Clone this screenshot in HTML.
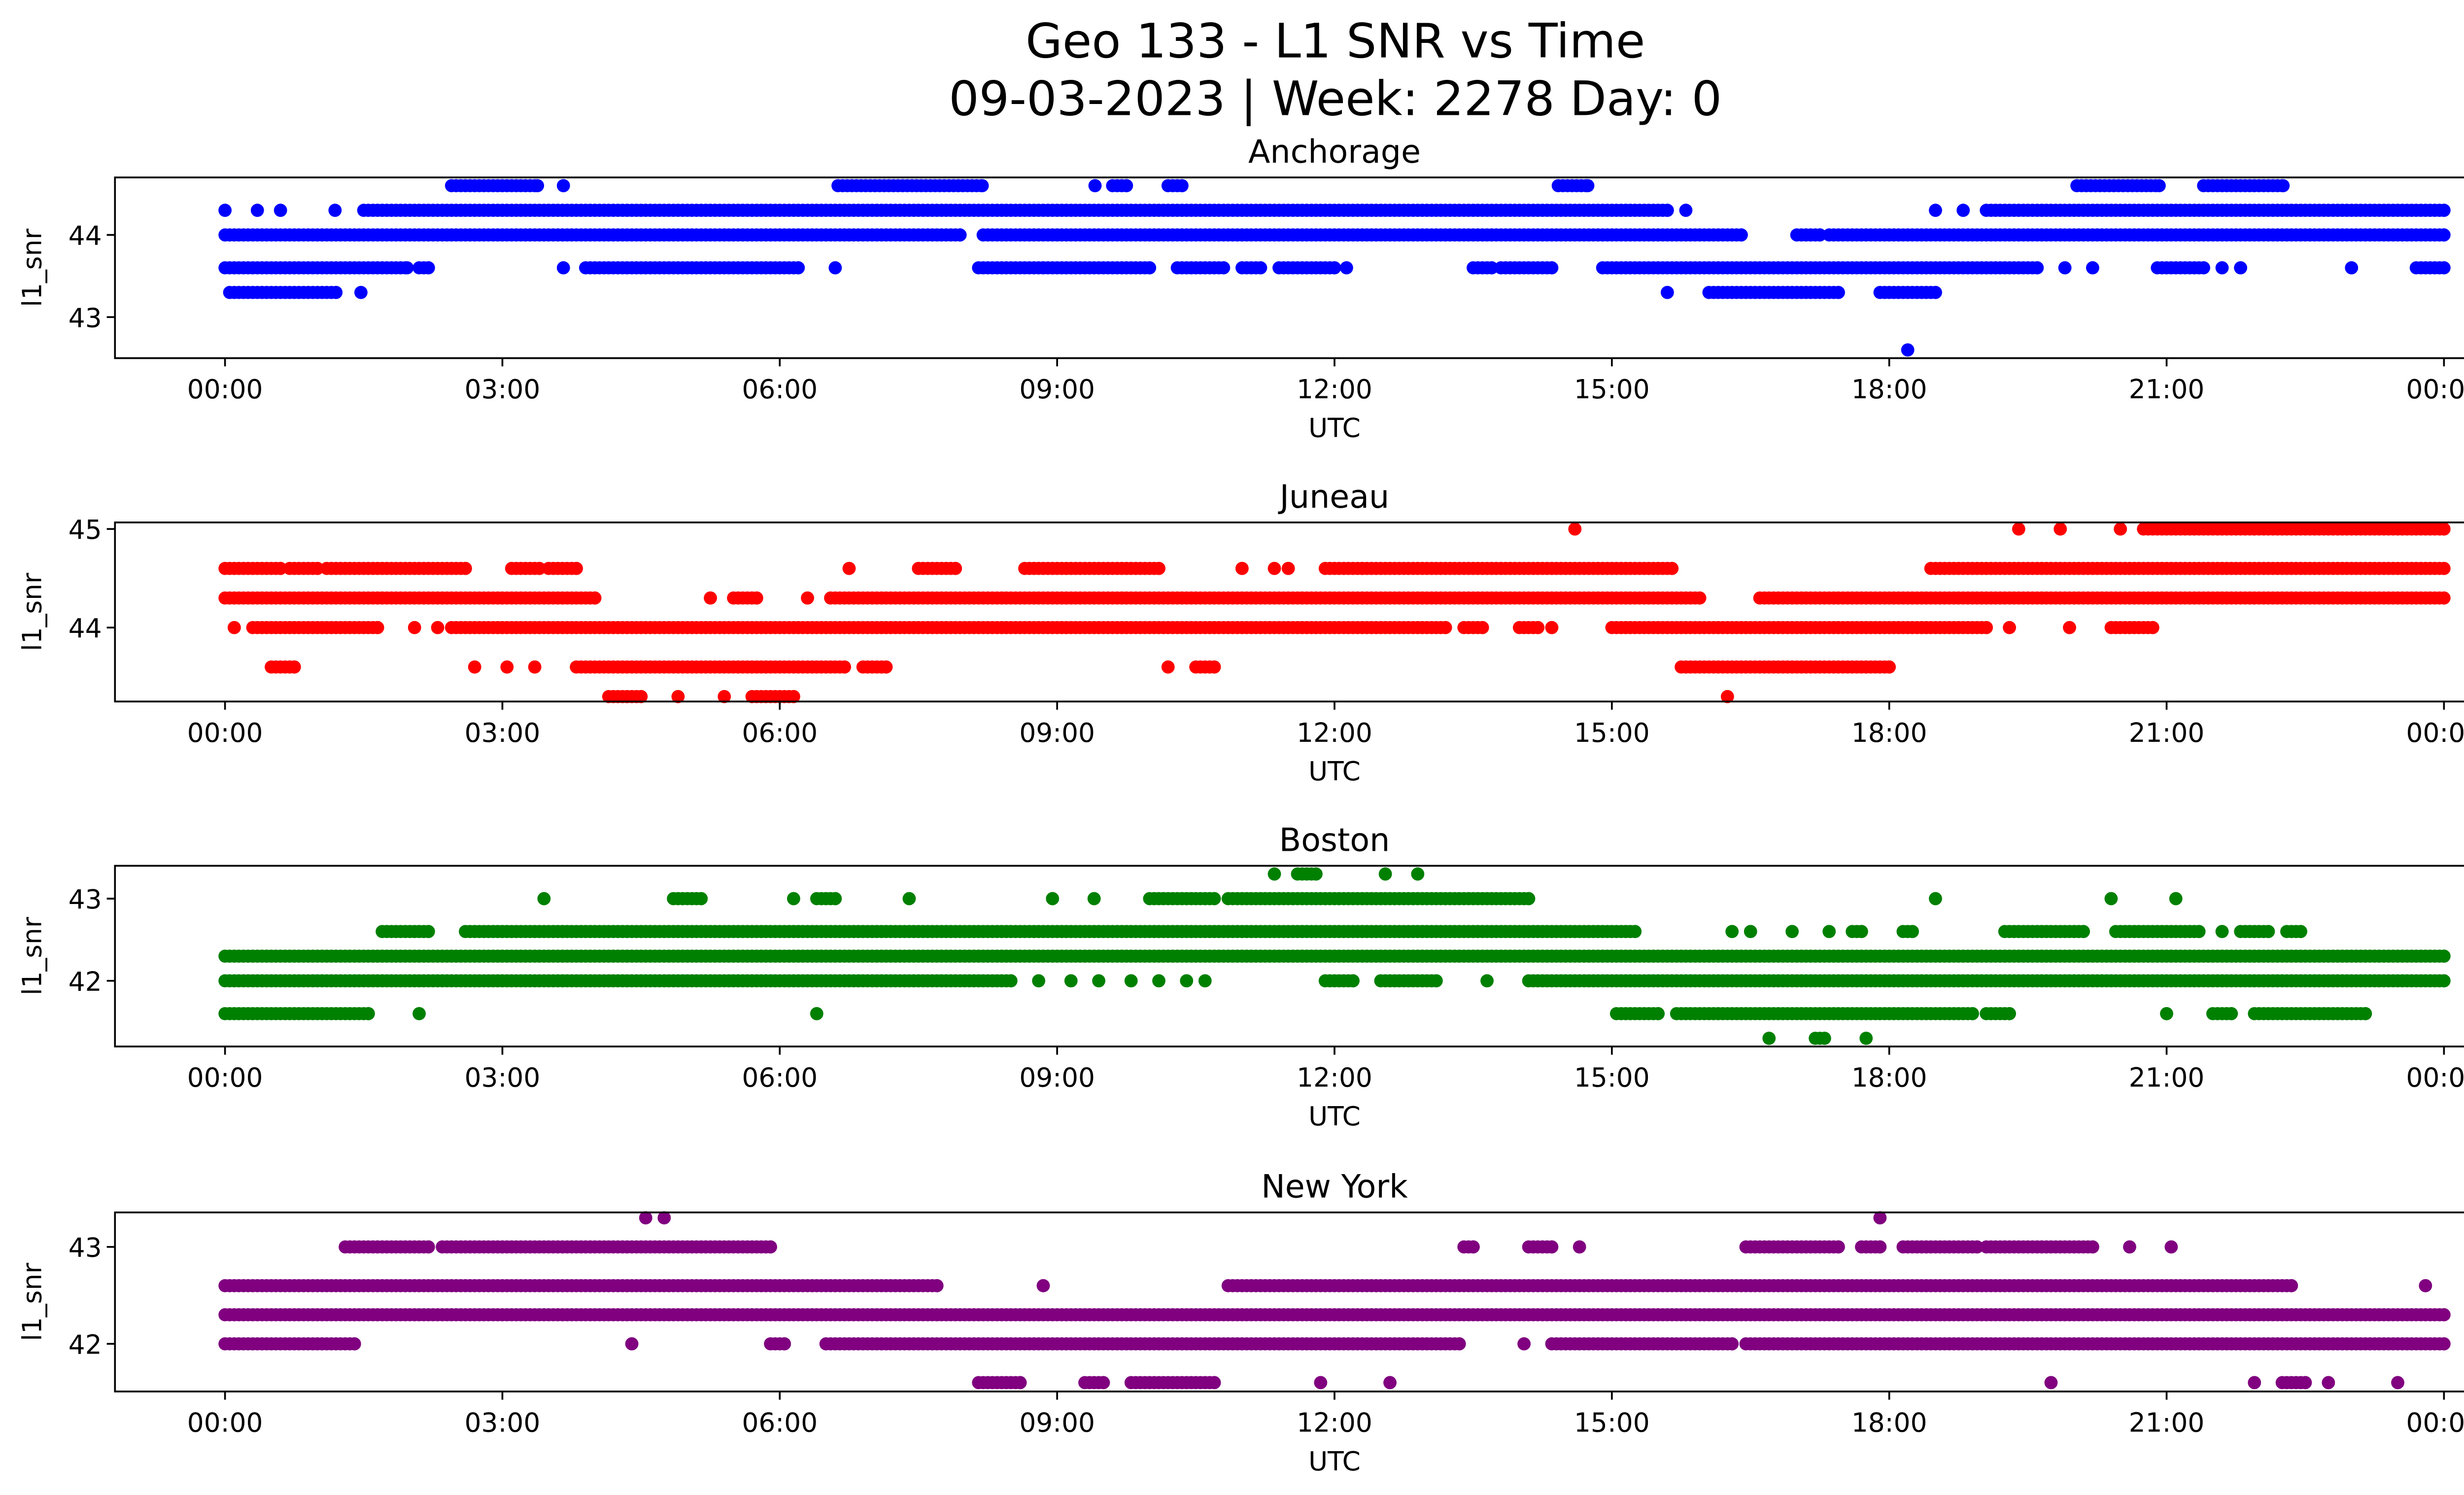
<!DOCTYPE html>
<html><head><meta charset="utf-8"><style>
html,body{margin:0;padding:0;background:#fff;}
svg{display:block;font-family:"DejaVu Sans","Liberation Sans",sans-serif;}
</style></head><body>
<svg id="fig" width="5226" height="3033" viewBox="0 0 1568 910" xmlns="http://www.w3.org/2000/svg">
<rect width="1568" height="910" fill="#fff"/>
<text x="813" y="35" font-size="29" text-anchor="middle">Geo 133 - L1 SNR vs Time</text>
<text x="813" y="70" font-size="29" text-anchor="middle">09-03-2023 | Week: 2278 Day: 0</text>
<g id="plots"></g>
</svg>
<script>
// ---- data (hours UTC runs per SNR level) ----
const xTickLabels = ["00:00","03:00","06:00","09:00","12:00","15:00","18:00","21:00","00:00"];
const xTickHours = [0,3,6,9,12,15,18,21,24];

const anchorageLevels = [44.6,44.3,44.0,43.6,43.3,42.6];
const anchorageRuns = [
 [[2.45,3.38],[3.66,3.66],[6.63,8.19],[9.41,9.41],[9.6,9.75],[10.2,10.35],[14.42,14.74],[20.03,20.92],[21.4,22.26]],
 [[0,0],[0.35,0.35],[0.6,0.6],[1.19,1.19],[1.5,15.6],[15.8,15.8],[18.5,18.5],[18.8,18.8],[19.05,24]],
 [[0,7.95],[8.2,16.4],[17.0,17.25],[17.35,24]],
 [[0,1.97],[2.1,2.2],[3.66,3.66],[3.9,6.2],[6.6,6.6],[8.15,8.85],[8.9,10],[10.3,10.8],[11,11.2],[11.4,12],[12.13,12.13],[13.5,13.7],[13.8,14.35],[14.9,19.6],[19.9,19.9],[20.2,20.2],[20.9,21.4],[21.6,21.6],[21.8,21.8],[23.0,23.0],[23.7,24]],
 [[0.05,1.2],[1.47,1.47],[15.6,15.6],[16.05,17.45],[17.9,18.5]],
 [[18.2,18.2]]
];

const juneauLevels = [45.0,44.6,44.3,44.0,43.6,43.3];
const juneauRuns = [
 [[14.6,14.6],[19.4,19.4],[19.85,19.85],[20.5,20.5],[20.75,24]],
 [[0,0.6],[0.7,1.0],[1.1,2.6],[3.1,3.4],[3.5,3.8],[6.75,6.75],[7.5,7.9],[8.65,10.1],[11.0,11.0],[11.35,11.35],[11.5,11.5],[11.9,12.3],[12.35,15.65],[18.45,24]],
 [[0,4.0],[5.25,5.25],[5.5,5.75],[6.3,6.3],[6.55,15.95],[16.6,24]],
 [[0.1,0.1],[0.3,1.65],[2.05,2.05],[2.3,2.3],[2.45,13.2],[13.4,13.6],[14.0,14.2],[14.35,14.35],[15,19.05],[19.3,19.3],[19.95,19.95],[20.4,20.85]],
 [[0.5,0.75],[2.7,2.7],[3.05,3.05],[3.35,3.35],[3.8,6.7],[6.9,7.15],[10.2,10.2],[10.5,10.7],[15.75,18.0]],
 [[4.15,4.5],[4.9,4.9],[5.4,5.4],[5.7,6.15],[16.25,16.25]]
];

const bostonLevels = [43.3,43.0,42.6,42.3,42.0,41.6,41.3];
const bostonRuns = [
 [[11.35,11.35],[11.6,11.8],[12.55,12.55],[12.9,12.9]],
 [[3.45,3.45],[4.85,5.15],[6.15,6.15],[6.4,6.6],[7.4,7.4],[8.95,8.95],[9.4,9.4],[10.0,10.7],[10.85,14.1],[18.5,18.5],[20.4,20.4],[21.1,21.1]],
 [[1.7,2.2],[2.6,15.25],[16.3,16.3],[16.5,16.5],[16.95,16.95],[17.35,17.35],[17.6,17.7],[18.15,18.25],[19.25,20.1],[20.45,21.35],[21.6,21.6],[21.8,22.1],[22.3,22.45]],
 [[0,24]],
 [[0,8.5],[8.8,8.8],[9.15,9.15],[9.45,9.45],[9.8,9.8],[10.1,10.1],[10.4,10.4],[10.6,10.6],[11.9,12.2],[12.5,13.1],[13.65,13.65],[14.1,24]],
 [[0,1.55],[2.1,2.1],[6.4,6.4],[15.05,15.5],[15.7,18.9],[19.05,19.3],[21.0,21.0],[21.5,21.7],[21.95,23.15]],
 [[16.7,16.7],[17.2,17.3],[17.75,17.75]]
];

const newYorkLevels = [43.3,43.0,42.6,42.3,42.0,41.6];
const newYorkRuns = [
 [[4.55,4.55],[4.75,4.75],[17.9,17.9]],
 [[1.3,2.2],[2.35,5.9],[13.4,13.5],[14.1,14.35],[14.65,14.65],[16.45,17.45],[17.7,17.9],[18.15,18.95],[19.05,20.2],[20.6,20.6],[21.05,21.05]],
 [[0,7.7],[8.85,8.85],[10.85,22.35],[23.8,23.8]],
 [[0,24]],
 [[0,1.4],[4.4,4.4],[5.9,6.05],[6.5,13.35],[14.05,14.05],[14.35,16.3],[16.45,24]],
 [[8.15,8.6],[9.3,9.5],[9.8,10.7],[11.85,11.85],[12.6,12.6],[19.75,19.75],[21.95,21.95],[22.25,22.5],[22.75,22.75],[23.5,23.5]]
];

const panels = [
 {name:"Anchorage",key:"anchorage",color:"#0000ff",top:108,bottom:218,refV:44,refY:143,ppu:50,ticks:[43,44],levels:anchorageLevels,runs:anchorageRuns},
 {name:"Juneau",key:"juneau",color:"#ff0000",top:318,bottom:427,refV:44,refY:382,ppu:60,ticks:[44,45],levels:juneauLevels,runs:juneauRuns},
 {name:"Boston",key:"boston",color:"#008000",top:527,bottom:637,refV:42,refY:597,ppu:50,ticks:[42,43],levels:bostonLevels,runs:bostonRuns},
 {name:"New York",key:"new-york",color:"#800080",top:738,bottom:847,refV:42,refY:818,ppu:59,ticks:[42,43],levels:newYorkLevels,runs:newYorkRuns}
];

const NS="http://www.w3.org/2000/svg";
const AX_L=70, AX_R=1555;
function xScale(h){return 137 + h*(1488-137)/24;}
function mk(tag,attrs,parent){const e=document.createElementNS(NS,tag);for(const k in attrs)e.setAttribute(k,attrs[k]);parent.appendChild(e);return e;}
const root=document.getElementById('plots');

panels.forEach(p=>{
 const yScale=v=>p.refY-(v-p.refV)*p.ppu;
 const g=mk('g',{},root);
 
 
 const t=mk('text',{x:(AX_L+AX_R)/2,y:p.top-9,'font-size':19.5,'text-anchor':'middle'},g);
 t.textContent=p.name;
 
 
 const pts=mk('g',{fill:p.color},g);
 
 
 p.levels.forEach((lv,i)=>{
  const y=yScale(lv);
  p.runs[i].forEach(r=>{
   const step=0.05;
   for(let h=r[0];h<=r[1]+1e-9;h+=step){
    const c=mk('circle',{cx:xScale(h).toFixed(2),cy:y,r:4},pts);
    
    
   }
   const c=mk('circle',{cx:xScale(r[1]).toFixed(2),cy:y,r:4},pts);
   
   
  });
 });
 const frame=mk('rect',{x:AX_L,y:p.top,width:AX_R-AX_L,height:p.bottom-p.top,fill:'none',stroke:'#000','stroke-width':1.1},g);
 
 
 xTickHours.forEach((h,i)=>{
  const x=xScale(h);
  mk('line',{x1:x,x2:x,y1:p.bottom,y2:p.bottom+5,stroke:'#000','stroke-width':1.1},g);
  const tl=mk('text',{x:x,y:p.bottom+24.5,'font-size':16,'text-anchor':'middle'},g);
  tl.textContent=xTickLabels[i];
  
  
 });
 const xl=mk('text',{x:(AX_L+AX_R)/2,y:p.bottom+48,'font-size':16,'text-anchor':'middle'},g);
 xl.textContent='UTC';
 
 
 p.ticks.forEach(v=>{
  const y=yScale(v);
  mk('line',{x1:AX_L-5,x2:AX_L,y1:y,y2:y,stroke:'#000','stroke-width':1.1},g);
  const tl=mk('text',{x:AX_L-8,y:y+6,'font-size':16,'text-anchor':'end'},g);
  tl.textContent=v;
  
  
 });
 const cy=(p.top+p.bottom)/2;
 const yl=mk('text',{x:25,y:cy,'font-size':16,'text-anchor':'middle',transform:`rotate(-90 25 ${cy})`},g);
 yl.textContent='l1_snr';
 
 
});
</script>
</body></html>
